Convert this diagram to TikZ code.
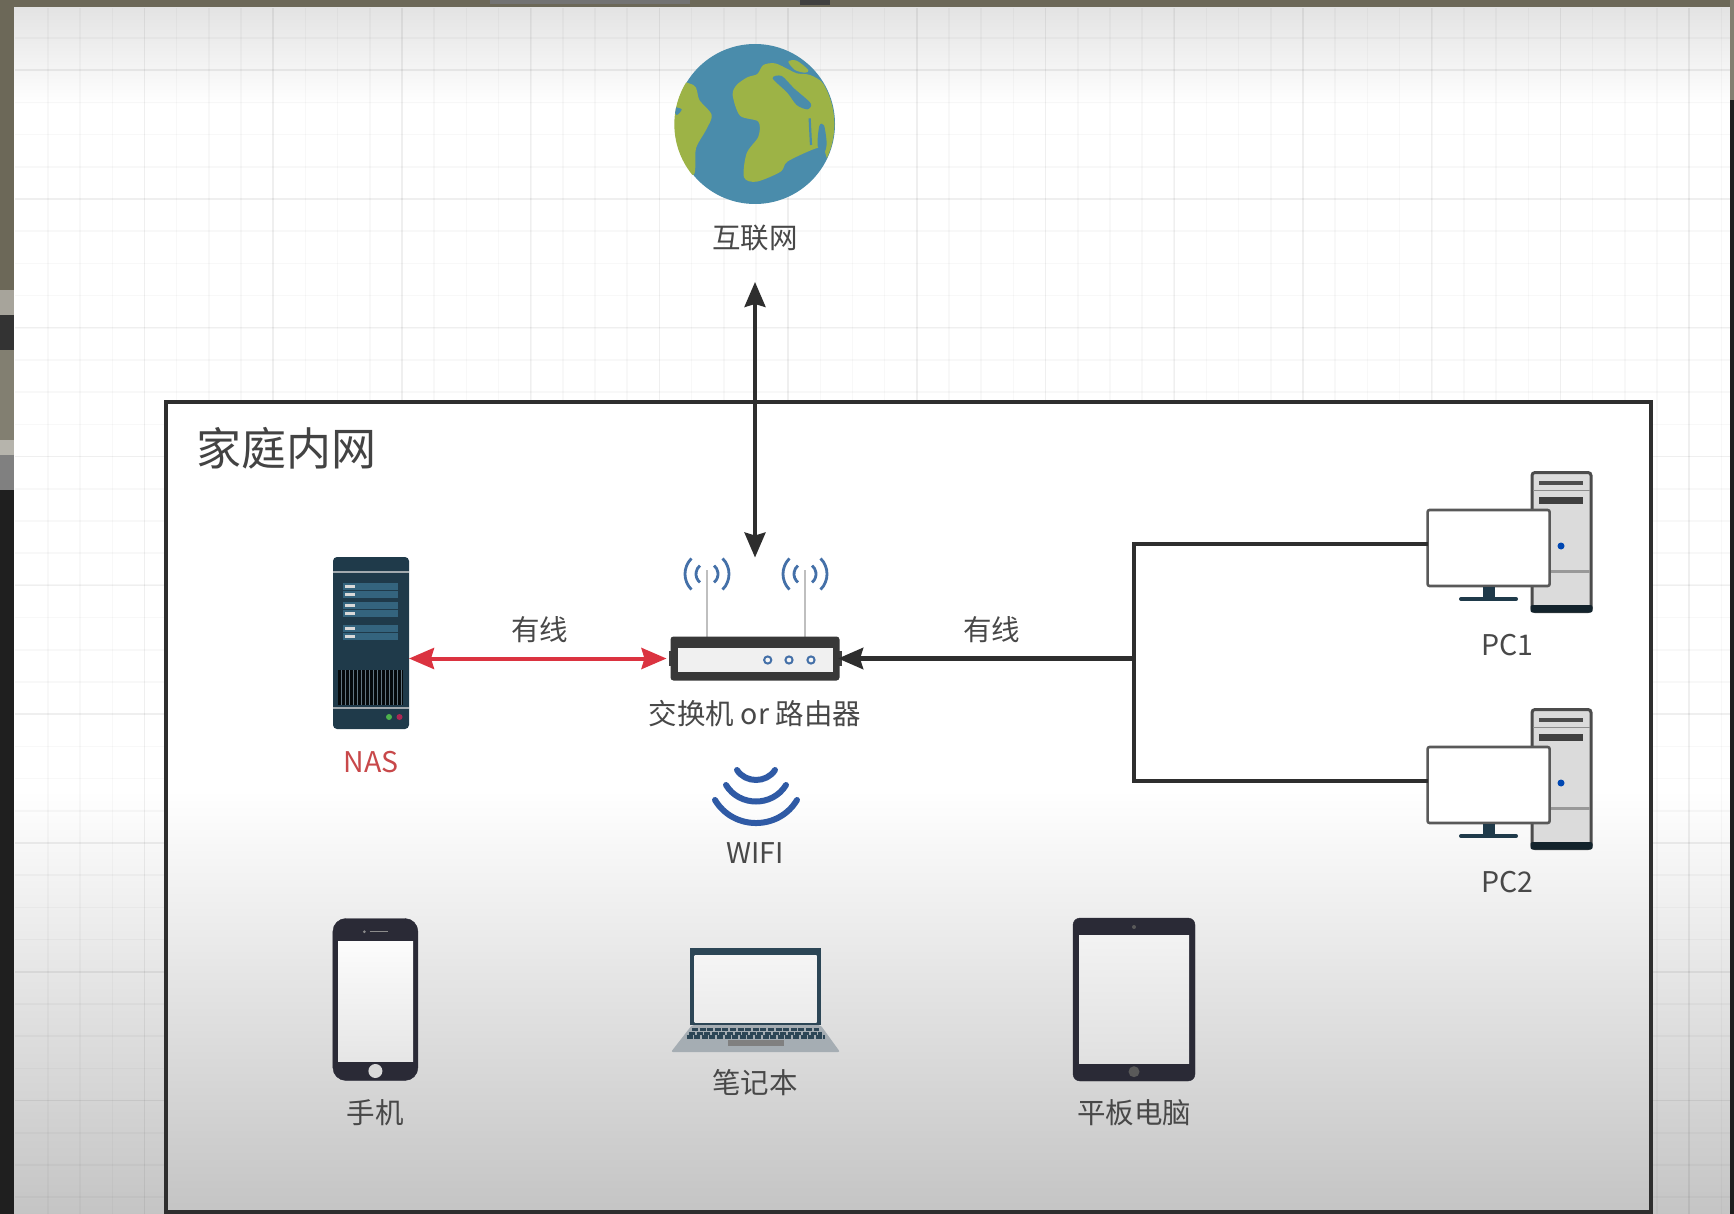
\documentclass[tikz,border=0pt]{standalone}
\usepackage{xcolor}
\usepackage{fontspec}
\setmainfont{Noto Sans CJK SC}
\usepackage{tikz}
\usetikzlibrary{positioning,arrows.meta}

\definecolor{inkline}{HTML}{2E2E2E}
\definecolor{labelgray}{HTML}{484848}
\definecolor{wirered}{HTML}{DB3340}
\definecolor{redtext}{HTML}{C8484A}
\definecolor{ocean}{HTML}{4A8CAB}
\definecolor{land}{HTML}{9DB346}
\definecolor{rack}{HTML}{1F3A4A}
\definecolor{rackrow}{HTML}{34647E}
\definecolor{slate}{HTML}{2C4656}
\definecolor{signal}{HTML}{4470A8}
\definecolor{wifiblue}{HTML}{2F5AA5}
\definecolor{device}{HTML}{2A2A36}
\definecolor{band}{HTML}{6C6858}
\definecolor{laptopbase}{HTML}{A5ADB3}

\tikzset{
  plainbox/.style={rectangle, inner sep=0pt, outer sep=0pt},
  caption/.style={inner sep=0pt, outer sep=0pt, text=labelgray, font=\fontsize{28.5}{28.5}\selectfont},
  wire label/.style={caption, midway, yshift=29pt},
  grid minor/.style={line width=1.5pt, black, opacity=0.028},
  grid major/.style={line width=1.8pt, black, opacity=0.035},
  monitor/.style={plainbox, draw=black!65, line width=2.6pt, fill=white, rounded corners=2pt,
    minimum width=122pt, minimum height=76pt},
  handheld/.style={plainbox, fill=device, draw=device},
}

\begin{document}
\begin{tikzpicture}[x=1pt, y=-1pt, >={Stealth[length=25pt,width=21pt,inset=3pt]}]
    \useasboundingbox (0,0) rectangle (1734,1214);

    \fill [white] (0,0) rectangle (1734,1214);
    \shade [top color=black!11, bottom color=white] (14,7) rectangle (1730,105);
    \shade [top color=white, bottom color=black!23] (14,790) rectangle (1730,1214);

    \foreach \i in {1,...,53}
      \draw [grid minor] ({15.8+32.18*\i},8) -- ({15.8+32.18*\i},1214);
    \foreach \j in {1,...,37}
      \draw [grid minor] (15,{5.8+32.2*\j}) -- (1730,{5.8+32.2*\j});
    \foreach \i in {1,...,13}
      \draw [grid major] ({15.8+128.72*\i},8) -- ({15.8+128.72*\i},1214);
    \foreach \j in {0,...,9}
      \draw [grid major] (15,{70+128.8*\j}) -- (1730,{70+128.8*\j});

    \fill [band] (0,0) rectangle (1734,7);
    \fill [black!55] (490,0) rectangle (690,4);
    \fill [black!75] (800,0) rectangle (830,5);
    \foreach \a/\b/\c in {0/290/band, 290/315/band!60!white, 315/350/black!80, 350/440/band!85!white,
        440/455/band!50!white, 455/490/black!50, 490/1214/black!88}
      \fill [\c] (0,\a) rectangle (14,\b);
    \fill [band!85!white] (1730,0) rectangle (1734,100);
    \fill [black!88] (1730,100) rectangle (1734,1214);

    \node [plainbox, fill=white, anchor=north west,
      minimum width=1485pt, minimum height=810pt] (lan) at (166,402) {};
    \shade [top color=white, bottom color=black!23] (167.5,790) rectangle (1649.5,1210.5);
    \draw [inkline, line width=3.5pt] (lan.north west) rectangle (lan.south east);
    \node [caption, text=inkline!90, font=\fontsize{45}{45}\selectfont] (label-lan) at (286,448) {家庭内网};

    \node [circle, fill=ocean, inner sep=0pt, minimum size=160pt] (earth) at (755,124) {};
    \begin{scope}[shift={(650,20)}, x=0.3333pt, y=-0.3333pt]
      \clip (313,313) circle [radius=240];
      \fill [land] plot [smooth cycle] coordinates {(40,190) (130,195) (148,240) (185,285) (168,330) (138,385) (128,465) (40,360)};
      \fill [ocean] plot [smooth cycle] coordinates {(70,262) (95,268) (80,285)};
      \fill [land] plot [smooth cycle] coordinates {(248,225) (260,195) (292,172) (322,162) (340,135) (375,130) (415,148) (440,160)
        (480,165) (520,190) (570,260) (575,340) (540,430) (520,385) (490,388) (412,425) (392,455) (320,485) (282,472) (290,400)
        (325,350) (325,305) (270,287)};
      \fill [land] plot [smooth cycle] coordinates {(415,125) (440,122) (475,150) (465,158) (435,150)};
      \fill [ocean] plot [smooth cycle] coordinates {(368,175) (395,168) (432,205) (482,250) (472,268) (440,255) (412,218)};
      \fill [ocean] plot [smooth cycle] coordinates {(508,318) (522,316) (530,370) (522,398) (503,378)};
      \draw [ocean, line width=2.2pt] (479,295) -- (483,375);
    \end{scope}
    \node [caption] (label-earth) at (755,238) {互联网};

    \node [plainbox, fill=rack, rounded corners=4pt, minimum width=76pt, minimum height=172pt] (nas) at (371,643) {};
    \draw [black!30!rack!40!white, line width=2pt] (nas.west |- 0,571.5) -- (nas.east |- 0,571.5);
    \draw [black!30!rack!40!white, line width=2pt] (nas.west |- 0,708) -- (nas.east |- 0,708);
    \foreach \y in {586,594.5,605,613.5,628,636.5} {
      \fill [rackrow] (343,{\y-3.5}) rectangle (398,{\y+3.5});
      \fill [black!15!white] (345,{\y-1.5}) rectangle (355,{\y+1.5});
    }
    \fill [black!85!rack] (338,670) rectangle (403,705);
    \foreach \x in {0,...,15}
      \draw [rack!70!white, line width=1pt] ({341+4*\x},670) -- ({341+4*\x},705);
    \fill [green!40!gray] (389,717) circle [radius=3];
    \fill [purple!70!gray] (399.5,717) circle [radius=3];
    \node [caption, text=redtext] (label-nas) at (371,762) {NAS};

    \foreach \x in {707,805} {
      \draw [black!25, line width=2.5pt] (\x,570) -- (\x,640);
      \draw [signal, line width=2.8pt] ([shift={(\x,574)}]135:22) arc [start angle=135, end angle=225, radius=22];
      \draw [signal, line width=2.8pt] ([shift={(\x,574)}]45:22) arc [start angle=45, end angle=-45, radius=22];
      \draw [signal, line width=2.8pt] ([shift={(\x,574)}]130:11) arc [start angle=130, end angle=230, radius=11];
      \draw [signal, line width=2.8pt] ([shift={(\x,574)}]50:11) arc [start angle=50, end angle=-50, radius=11];
    }
    \fill [black!75] (669,651) rectangle (842,666);
    \node [plainbox, fill=black!78, rounded corners=3pt, minimum width=169pt, minimum height=44pt] (router) at (755,658.5) {};
    \fill [black!6] (678,648) rectangle (833,672);
    \foreach \x in {767.7,789,811}
      \draw [signal, fill=black!4, line width=2pt] (\x,660) circle [radius=3.6];
    \node [caption] (label-router) at (755,714) {交换机 or 路由器};

    \foreach \m/\dy in {1/0,2/237} {
      \node [plainbox, draw=black!70, fill=black!14, line width=3pt, rounded corners=3pt,
        minimum width=59pt, minimum height=139pt] (tower-\m) at (1561.5,{542+\dy}) {};
      \fill [rack!60!black, rounded corners=2pt] (1530.5,{605+\dy}) rectangle (1592.5,{612.5+\dy});
      \draw [black!70, line width=3.5pt] (1539,{483+\dy}) -- (1583,{483+\dy});
      \draw [black!45, line width=1.5pt] (1533,{490.5+\dy}) -- (1590,{490.5+\dy});
      \draw [black!75, line width=7pt] (1539,{500+\dy}) -- (1583,{500+\dy});
      \draw [black!40, line width=2.5pt] (1533,{571.5+\dy}) -- (1590,{571.5+\dy});
      \fill [blue!60!cyan!70!black] (1561,{546+\dy}) circle [radius=3.5];
      \node [monitor] (pc-\m) at (1488.6,{548+\dy}) {};
      \fill [rack] (1482.7,{587+\dy}) rectangle (1495,{597.5+\dy});
      \draw [rack, line width=4pt, line cap=round] (1461,{599+\dy}) -- (1516,{599+\dy});
      \node [caption] (label-pc-\m) at (1507,{645+\dy}) {PC\m};
    }

    \coordinate (hub) at (1134,658.5);
    \draw [inkline, line width=4pt] ([yshift=4pt]pc-1.west) -| (hub) |- ([yshift=4pt]pc-2.west);
    \draw [<->, inkline, line width=3.5pt, shorten <=31pt, shorten >=79pt] (label-earth.south) -- (router.north);
    \draw [<->, wirered, line width=4pt, shorten >=4pt] (nas.east |- router.west) -- (router.west)
      node [wire label] (label-wire-nas) {有线};
    \draw [<-, inkline, line width=5pt, shorten <=-1.5pt] (router.east) -- (hub)
      node [wire label, xshift=5pt] (label-wire-pc) {有线};

    \foreach \yt/\lo [count=\k] in {800/830.7, 785/807, 770/783.3} {
      \pgfmathsetmacro{\half}{41-(\k-1)*11}
      \draw [wifiblue, line width=6pt, line cap=round] ({756-\half},\yt)
        .. controls ({756-0.55*\half},\lo) and ({756+0.55*\half},\lo) .. ({756+\half},\yt);
    }
    \node [caption] (label-wifi) at (755,853) {WIFI};

    \node [handheld, rounded corners=13pt, minimum width=85pt, minimum height=162pt] (phone) at (375.4,999.5) {};
    \shade [top color=black!1, bottom color=black!10] (338,941) rectangle (413,1061.5);
    \fill [black!15] (375.4,1071) circle [radius=7];
    \draw [black!45, line width=1.5pt] (369.6,931.7) -- (388,931.7);
    \fill [black!45] (364.3,931.7) circle [radius=1.5];
    \node [caption] (label-phone) at (375.4,1113) {手机};

    \node [plainbox, fill=slate, minimum width=130.6pt, minimum height=77pt] (laptop) at (755.7,986.5) {};
    \shade [top color=black!4, bottom color=black!8] (694.5,955.7) rectangle (816.6,1022);
    \fill [laptopbase, rounded corners=2pt] (692,1025) -- (820.5,1025) -- (840,1052) -- (671,1052) -- cycle;
    \foreach \y/\l/\r in {1029.5/692/819, 1033.5/689/822, 1037/686.5/825}
      \draw [slate, line width=3.2pt, dash pattern=on 6pt off 1.6pt] (\l,\y) -- (\r,\y);
    \fill [black!50] (728,1040) rectangle (784,1046);
    \node [caption] (label-laptop) at (755,1083) {笔记本};

    \node [handheld, rounded corners=7pt, minimum width=122pt, minimum height=163pt] (tablet) at (1134,999.5) {};
    \shade [top color=black!5, bottom color=black!12] (1079,935.7) rectangle (1189,1063.3);
    \fill [black!65] (1134,927) circle [radius=2];
    \fill [black!65] (1134,1071.7) circle [radius=5.5];
    \node [caption] (label-tablet) at (1134,1113) {平板电脑};
\end{tikzpicture}
\end{document}
